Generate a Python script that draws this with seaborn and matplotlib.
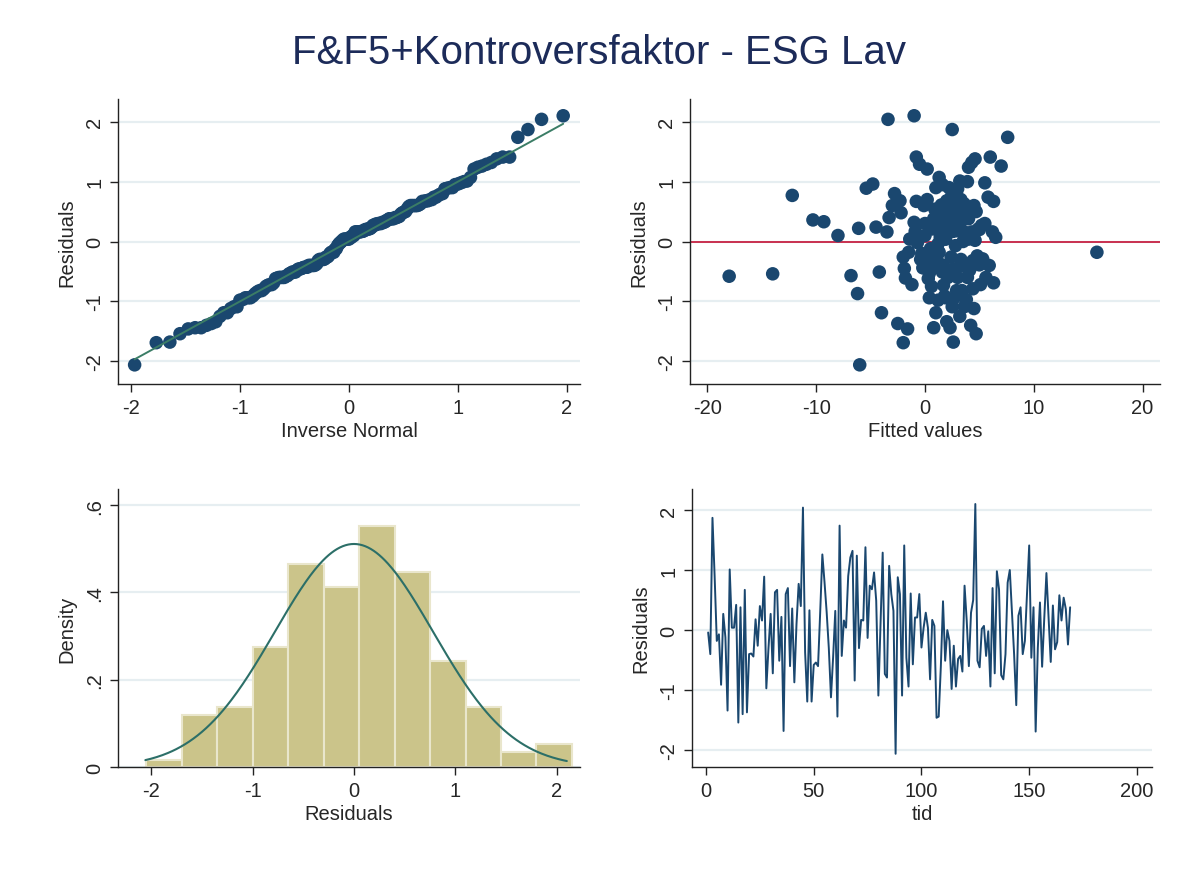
import statistics

import matplotlib
matplotlib.use("Agg")
import matplotlib.pyplot as plt
import numpy as np
import pandas as pd
import seaborn as sns

# Regression residuals in time order (tid = 1 .. n)
residuals = [
    -0.04, -0.40, 1.87, 0.90, -0.18, -0.07, -0.91, 0.27, -0.12, -1.34,
    1.01, 0.04, 0.04, 0.42, -1.54, 0.38, -1.40, 0.67, -1.37, -0.40,
    -0.39, -0.44, 0.18, -0.26, 0.40, 0.16, 0.89, -0.97, -0.30, 0.27,
    -0.72, 0.63, 0.67, -0.51, 0.22, -1.68, 0.60, 0.70, -0.60, 0.36,
    -0.87, 0.10, 0.77, 0.40, 2.04, -0.37, -1.19, 0.33, -1.19, -0.58,
    -0.54, -0.60, 0.30, 1.26, 0.80, 0.30, -0.30, -1.12, -0.45, 0.32,
    -1.44, 1.74, -0.43, 0.16, 0.04, 0.90, 1.21, 1.32, -0.84, 1.24,
    -0.30, 0.17, 0.16, 1.38, -0.13, 0.74, 0.68, 0.96, 0.49, -1.09,
    0.10, 1.29, -0.73, -0.79, 1.07, 0.60, 0.32, -2.06, 0.88, 0.60,
    -1.09, 1.41, -0.46, -0.94, 0.61, -0.57, 0.21, 0.21, 0.60, -0.29,
    0.04, 0.29, 0.04, -0.82, 0.17, 0.07, -1.46, -1.44, -0.60, 0.48,
    -0.51, 0.00, -0.18, -0.98, -0.26, -0.94, -0.48, -0.43, -0.69, 0.74,
    0.16, -0.60, 0.29, 0.50, 2.10, -0.51, -0.62, 0.02, 0.07, -0.43,
    -0.02, -0.94, 0.70, -0.72, 0.98, 0.68, -0.75, -0.82, -0.40, 0.79,
    1.00, 0.30, -0.40, -1.25, 0.24, 0.38, -0.40, -0.18, 0.60, 1.41,
    -0.46, 0.38, -1.69, -0.30, 0.46, -0.61, 0.20, 0.95, 0.20, -0.53,
    0.41, -0.32, -0.20, 0.58, 0.16, 0.54, 0.35, -0.24, 0.38,
]

# Fitted values belonging to the residuals above (same order)
fitted = [
    1.2, 3.5, 2.5, 1.0, -1.5, 2.8, 1.8, 5.2, 0.5, 2.0,
    3.2, -0.6, 4.0, 2.2, 4.7, 0.8, 4.2, 6.3, -2.5, 1.5,
    5.0, -0.2, 3.0, 2.4, -3.3, 1.6, -5.4, 3.8, 0.3, 2.7,
    -1.2, 3.6, -0.8, -4.2, -6.1, 2.6, 4.5, 0.2, 3.9, -10.3,
    -6.2, -8.0, -12.2, 1.4, -3.4, 4.8, -4.0, -9.3, 1.0, -18.0,
    -14.0, 2.1, 5.5, 7.0, -2.8, 0.9, 3.3, 4.5, -1.9, 2.9,
    2.3, 7.6, 0.6, 4.3, 1.9, 2.2, 0.2, 4.3, 3.1, 4.0,
    -0.4, 2.6, 6.2, 4.6, 1.1, 5.8, 2.0, -4.8, 3.7, 2.5,
    0.0, -0.5, 1.7, 4.4, 1.3, 3.4, -1.0, -6.0, 3.0, -0.1,
    3.6, 6.0, 2.8, 0.4, 1.5, -6.8, 4.9, 0.7, 2.3, 5.3,
    -1.4, 3.2, 1.8, 2.9, -0.9, 6.5, -1.6, 0.8, 5.6, -2.2,
    1.6, 3.5, 15.8, 1.2, -2.0, 2.7, 4.1, 0.1, 6.3, 2.4,
    -3.5, 3.0, 1.0, 4.7, -1.0, 2.2, 0.3, 4.6, 1.4, 3.8,
    -0.7, 1.9, 3.3, 5.1, 5.5, -2.3, 0.6, 3.4, 1.7, 2.9,
    3.9, 0.0, 4.2, 3.2, -4.5, 2.1, 5.9, 1.3, -3.0, -0.8,
    2.6, 4.0, -2.0, 1.1, 3.1, -1.8, 2.0, 1.6, 5.0, 0.4,
    2.8, 4.4, -0.3, 1.8, 3.6, 0.9, 2.3, 4.8, 1.5,
]

# Histogram of residuals: bin edges and density heights
hist_edges = [-2.05, -1.70, -1.35, -1.00, -0.65, -0.30, 0.05, 0.40,
              0.75, 1.10, 1.45, 1.80, 2.15]
hist_density = [0.015, 0.120, 0.137, 0.275, 0.465, 0.413, 0.552, 0.447,
                 0.242, 0.137, 0.034, 0.052]

title_text = "F&F5+Kontroversfaktor - ESG Lav"

NAVY = "#1a476f"
GRID = "#e6eef1"
TITLE = "#1c2b59"
KHAKI = "#cbc48a"
TEAL = "#2c6f68"
QQLINE = "#3b7d66"
ZERO = "#c9304f"

sns.set_theme(style="white")
plt.rcParams["font.family"] = ["Liberation Sans", "DejaVu Sans"]
plt.rcParams["axes.linewidth"] = 1.0

FS = 14.5

resid = np.asarray(residuals)
n = len(resid)
mu = resid.mean()
sd = resid.std(ddof=1)
dist = statistics.NormalDist(mu, sd)

df = pd.DataFrame({
    "tid": np.arange(1, n + 1),
    "Residuals": resid,
    "Fitted values": fitted,
})
qq = pd.DataFrame({
    "Inverse Normal": [dist.inv_cdf(i / (n + 1)) for i in range(1, n + 1)],
    "Residuals": np.sort(resid),
})
hist_mid = [(a + b) / 2 for a, b in zip(hist_edges[:-1], hist_edges[1:])]

fig = plt.figure(figsize=(11.97, 8.70), dpi=100)
fig.patch.set_facecolor("white")

W, H = 1197.0, 870.0


def box(x0, y0, x1, y1):
    return [x0 / W, 1 - y1 / H, (x1 - x0) / W, (y1 - y0) / H]


ax_qq = fig.add_axes(box(118, 100, 580, 385))
ax_rv = fig.add_axes(box(690, 100, 1160, 385))
ax_h = fig.add_axes(box(118, 490, 580, 768))
ax_ts = fig.add_axes(box(692, 490, 1152, 768))


def style(ax, yticks, ylabels, xticks, xlabels, xlabel, ylabel):
    ax.set_facecolor("white")
    for s in ("top", "right"):
        ax.spines[s].set_visible(False)
    for s in ("left", "bottom"):
        ax.spines[s].set_color("#222222")
        ax.spines[s].set_linewidth(1.0)
    ax.set_yticks(yticks)
    ax.set_yticklabels(ylabels, rotation=90, va="center", fontsize=FS)
    ax.set_xticks(xticks)
    ax.set_xticklabels(xlabels, fontsize=FS)
    ax.tick_params(axis="both", direction="out", length=6, width=1.0,
                   color="#222222", pad=4, left=True, bottom=True)
    ax.yaxis.grid(True, color=GRID, linewidth=1.6)
    ax.xaxis.grid(False)
    ax.set_axisbelow(True)
    ax.set_xlabel(xlabel, fontsize=FS, labelpad=3)
    ax.set_ylabel(ylabel, fontsize=FS, labelpad=6)


# Normal quantile plot
sns.scatterplot(data=qq, x="Inverse Normal", y="Residuals", ax=ax_qq,
                color=NAVY, s=95, edgecolor="none", zorder=3)
qmin, qmax = qq["Inverse Normal"].min(), qq["Inverse Normal"].max()
sns.lineplot(x=[qmin, qmax], y=[qmin, qmax], ax=ax_qq, color=QQLINE,
             linewidth=1.4, zorder=4)
ax_qq.set_xlim(-2.12, 2.12)
ax_qq.set_ylim(-2.38, 2.38)
style(ax_qq, [-2, -1, 0, 1, 2], ["-2", "-1", "0", "1", "2"],
      [-2, -1, 0, 1, 2], ["-2", "-1", "0", "1", "2"],
      "Inverse Normal", "Residuals")

# Residuals versus fitted values
sns.scatterplot(data=df, x="Fitted values", y="Residuals", ax=ax_rv,
                color=NAVY, s=95, edgecolor="none", zorder=3)
ax_rv.axhline(0, color=ZERO, linewidth=1.4, zorder=2)
ax_rv.set_xlim(-21.6, 21.6)
ax_rv.set_ylim(-2.38, 2.38)
style(ax_rv, [-2, -1, 0, 1, 2], ["-2", "-1", "0", "1", "2"],
      [-20, -10, 0, 10, 20], ["-20", "-10", "0", "10", "20"],
      "Fitted values", "Residuals")

# Histogram with normal density
sns.histplot(x=hist_mid, weights=hist_density, bins=hist_edges, ax=ax_h,
             stat="count", color=KHAKI, alpha=1.0, edgecolor="#e9e6cc",
             linewidth=1.5, zorder=2)
xs = np.linspace(resid.min(), resid.max(), 300)
sns.lineplot(x=xs, y=[dist.pdf(v) for v in xs], ax=ax_h, color=TEAL,
             linewidth=1.5, zorder=3)
ax_h.set_xlim(-2.33, 2.23)
ax_h.set_ylim(0, 0.637)
style(ax_h, [0, 0.2, 0.4, 0.6], ["0", ".2", ".4", ".6"],
      [-2, -1, 0, 1, 2], ["-2", "-1", "0", "1", "2"],
      "Residuals", "Density")

# Residuals over time
sns.lineplot(data=df, x="tid", y="Residuals", ax=ax_ts, color=NAVY,
             linewidth=1.4, zorder=3)
ax_ts.set_xlim(-6.5, 207)
ax_ts.set_ylim(-2.28, 2.35)
style(ax_ts, [-2, -1, 0, 1, 2], ["-2", "-1", "0", "1", "2"],
      [0, 50, 100, 150, 200], ["0", "50", "100", "150", "200"],
      "tid", "Residuals")

fig.text(0.5, 1 - 53 / H, title_text, ha="center", va="center",
         fontsize=29, color=TITLE)

fig.savefig("out.png", dpi=100, facecolor="white")
